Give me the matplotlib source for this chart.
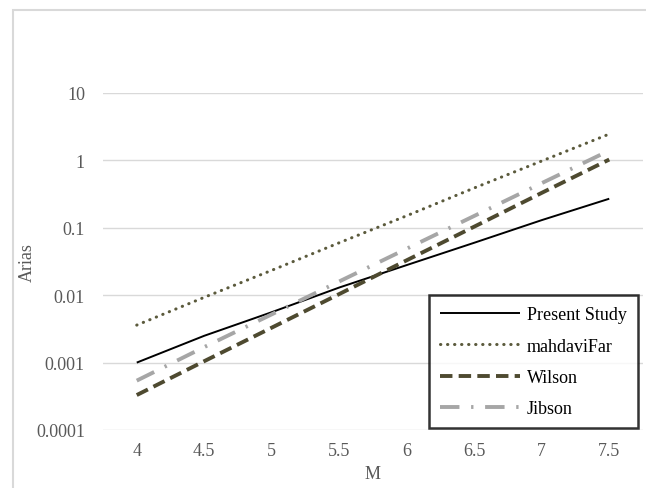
import matplotlib.pyplot as plt
import matplotlib.patches as patches

# Magnitude values on the category axis
magnitudes = [4, 4.5, 5, 5.5, 6, 6.5, 7, 7.5]

# Arias intensity estimates for each relation
present_study = [0.001, 0.0025, 0.0056, 0.013, 0.028, 0.06, 0.13, 0.27]
mahdavifar = [0.0036, 0.0093, 0.0234, 0.060, 0.151, 0.39, 0.98, 2.46]
wilson = [0.00033, 0.00105, 0.0033, 0.0104, 0.033, 0.104, 0.33, 1.03]
jibson = [0.00054, 0.0017, 0.0052, 0.016, 0.049, 0.15, 0.46, 1.4]

y_ticks = [0.0001, 0.001, 0.01, 0.1, 1, 10]
y_tick_labels = ['0.0001', '0.001', '0.01', '0.1', '1', '10']

plt.rcParams['font.family'] = ['Liberation Serif', 'DejaVu Serif']
text_grey = '#595959'

fig = plt.figure(figsize=(6.46, 4.89), dpi=100)
ax = fig.add_axes([103 / 646, 58 / 489, 540 / 646, 337 / 489])

# chart frame (light grey border)
frame = patches.Rectangle((13 / 646, -0.1), 1.2, 1 - 11 / 489 + 0.1,
                          transform=fig.transFigure, fill=False,
                          edgecolor='#d9d9d9', linewidth=1.5, zorder=0)
fig.patches.append(frame)

ax.plot(magnitudes, present_study, color='black', linewidth=1.4,
        label='Present Study', solid_capstyle='butt')
ax.plot(magnitudes, mahdavifar, color='#5b5a3c', linewidth=2.2,
        linestyle=(0, (0.1, 2.2)), dash_capstyle='round', label='mahdaviFar')
ax.plot(magnitudes, wilson, color='#4e4a30', linewidth=2.8,
        linestyle=(0, (3.2, 1.6)), label='Wilson')
ax.plot(magnitudes, jibson, color='#a6a6a6', linewidth=2.8,
        linestyle=(0, (5, 3, 0.6, 3)), label='Jibson')

ax.set_yscale('log')
ax.set_ylim(0.0001, 10)
ax.set_xlim(3.75, 7.75)
ax.set_yticks(y_ticks)
ax.set_yticklabels(y_tick_labels)
ax.minorticks_off()
ax.set_xticks(magnitudes)
ax.set_xticklabels([f'{m:g}' for m in magnitudes])
ax.tick_params(axis='both', length=0, labelsize=13, colors=text_grey)
ax.tick_params(axis='x', pad=9)
ax.tick_params(axis='y', pad=13)

ax.grid(axis='y', color='#d9d9d9', linewidth=1)
ax.set_axisbelow(True)
for side in ax.spines.values():
    side.set_visible(False)

ax.set_xlabel('M', fontsize=13, color=text_grey, labelpad=4)
ax.set_ylabel('Arias', fontsize=13, color=text_grey)
ax.yaxis.set_label_coords(-0.125, 0.5)

leg = ax.legend(loc='lower right', bbox_to_anchor=(0.99, 0.005),
                fontsize=13, frameon=True, fancybox=False,
                handlelength=4.4, handletextpad=0.4, labelspacing=0.8,
                borderpad=0.6, borderaxespad=0)
leg.get_frame().set_edgecolor('black')
leg.get_frame().set_linewidth(1.8)

fig.savefig('out.png', dpi=100)
